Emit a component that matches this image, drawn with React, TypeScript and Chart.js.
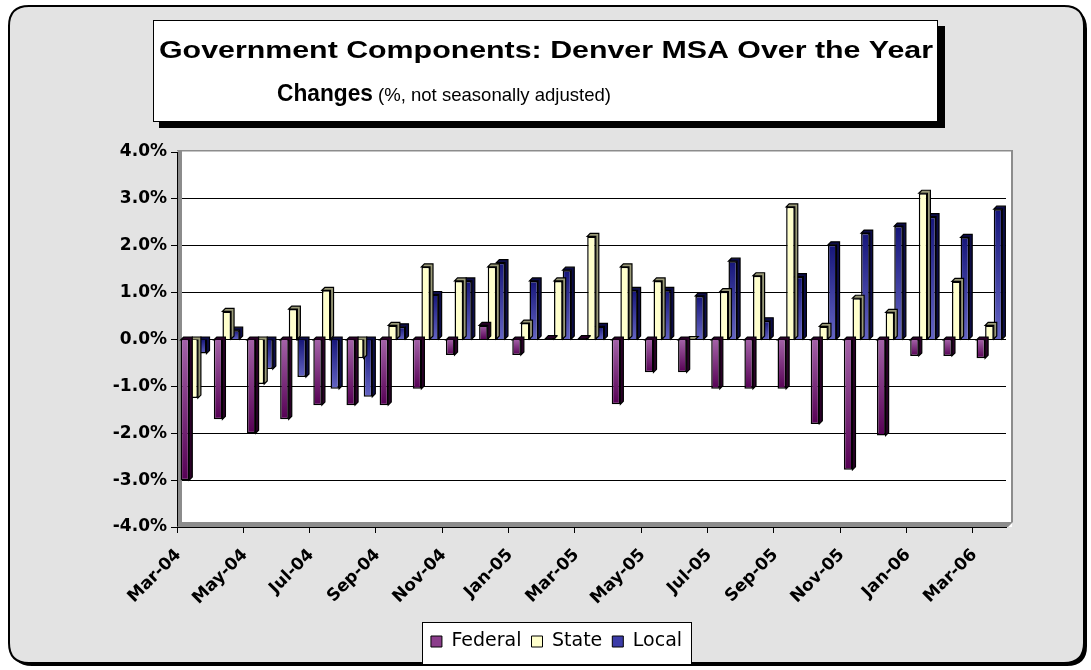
import React, { useEffect, useRef } from 'react';
import { Chart, registerables } from 'chart.js';

Chart.register(...registerables);

const months = [
  'Mar-04', 'Apr-04', 'May-04', 'Jun-04', 'Jul-04', 'Aug-04', 'Sep-04', 'Oct-04', 'Nov-04', 'Dec-04',
  'Jan-05', 'Feb-05', 'Mar-05', 'Apr-05', 'May-05', 'Jun-05', 'Jul-05', 'Aug-05', 'Sep-05', 'Oct-05',
  'Nov-05', 'Dec-05', 'Jan-06', 'Feb-06', 'Mar-06',
];

const federal = [
  -3.0, -1.7, -2.0, -1.7, -1.4, -1.4, -1.4, -1.05, -0.33, 0.3, -0.33, 0.02, 0.02, -1.38, -0.7,
  -0.7, -1.05, -1.05, -1.05, -1.8, -2.78, -2.05, -0.35, -0.35, -0.4,
];

const state = [
  -1.25, 0.6, -0.95, 0.65, 1.05, -0.4, 0.3, 1.55, 1.25, 1.55, 0.35, 1.25, 2.2, 1.55, 1.25,
  0.0, 1.02, 1.36, 2.83, 0.28, 0.88, 0.58, 3.12, 1.24, 0.3,
];

const local = [
  -0.3, 0.2, -0.63, -0.8, -1.05, -1.22, 0.27, 0.96, 1.25, 1.64, 1.25, 1.48, 0.28, 1.05, 1.05,
  0.93, 1.67, 0.4, 1.34, 2.02, 2.27, 2.42, 2.62, 2.18, 2.78,
];

const seriesNames = ['Federal', 'State', 'Local'];
const legendColors = ['#8b3d8b', '#ffffcc', '#3c3ca8'];

const titleLine1 = 'Government Components: Denver MSA Over the Year';
const titleLine2Bold = 'Changes';
const titleLine2Normal = '(%, not seasonally adjusted)';

const yMin = -4;
const yMax = 4;
const yStep = 1;

function roundRect(ctx: CanvasRenderingContext2D, x: number, y: number, w: number, h: number, r: number) {
  ctx.beginPath();
  ctx.moveTo(x + r, y);
  ctx.lineTo(x + w - r, y);
  ctx.quadraticCurveTo(x + w, y, x + w, y + r);
  ctx.lineTo(x + w, y + h - r);
  ctx.quadraticCurveTo(x + w, y + h, x + w - r, y + h);
  ctx.lineTo(x + r, y + h);
  ctx.quadraticCurveTo(x, y + h, x, y + h - r);
  ctx.lineTo(x, y + r);
  ctx.quadraticCurveTo(x, y, x + r, y);
  ctx.closePath();
}

function stretchedText(ctx: CanvasRenderingContext2D, text: string, x: number, y: number, width: number, font: string) {
  ctx.save();
  ctx.font = font;
  const m = ctx.measureText(text).width;
  ctx.translate(x, y);
  ctx.scale(width / m, 1);
  ctx.textAlign = 'left';
  ctx.textBaseline = 'alphabetic';
  ctx.fillText(text, 0, 0);
  ctx.restore();
}

function gradientFill(topColor: string, bottomColor: string, fallback: string) {
  return (c: any) => {
    const chart = c.chart;
    const ys = chart.scales && chart.scales.y;
    if (!ys || c.raw === undefined) return fallback;
    const v = c.raw as number;
    const y0 = ys.getPixelForValue(0);
    const y1 = ys.getPixelForValue(v);
    const t = Math.min(y0, y1);
    const b = Math.max(y0, y1);
    if (b - t < 1) return fallback;
    const g = chart.ctx.createLinearGradient(0, t, 0, b);
    g.addColorStop(0, topColor);
    g.addColorStop(1, bottomColor);
    return g;
  };
}

const sideColors = ['#2a0028', '#9a9a78', '#0c0c48'];
const DEPTH = 3;

const decorPlugin = {
  id: 'decor',
  beforeDraw(chart: any) {
    const ctx: CanvasRenderingContext2D = chart.ctx;
    const W = chart.width;
    const H = chart.height;
    ctx.save();
    ctx.fillStyle = '#ffffff';
    ctx.fillRect(0, 0, W, H);
    // outer frame with shadow
    roundRect(ctx, 12, 9, 1075, 657, 20);
    ctx.fillStyle = '#000';
    ctx.fill();
    roundRect(ctx, 9, 6, 1075, 657, 20);
    ctx.fillStyle = '#e3e3e3';
    ctx.fill();
    ctx.lineWidth = 2;
    ctx.strokeStyle = '#000';
    ctx.stroke();

    // title box
    ctx.fillStyle = '#000';
    ctx.fillRect(159, 26, 786, 102);
    ctx.fillStyle = '#fff';
    ctx.fillRect(153, 20, 785, 102);
    ctx.lineWidth = 1;
    ctx.strokeStyle = '#000';
    ctx.strokeRect(153.5, 20.5, 784, 101);
    ctx.fillStyle = '#000';
    stretchedText(ctx, titleLine1, 159, 58, 774, 'bold 24px "Liberation Sans", Arial, sans-serif');
    stretchedText(ctx, titleLine2Bold, 277, 101, 96, 'bold 24px "Liberation Sans", Arial, sans-serif');
    stretchedText(ctx, titleLine2Normal, 378, 101, 233, '19px "Liberation Sans", Arial, sans-serif');

    // plot area background
    const a = chart.chartArea;
    ctx.fillStyle = '#ffffff';
    ctx.fillRect(a.left, a.top - 2, a.right + 6 - a.left, a.bottom - a.top + 2);

    // legend box
    const lg = chart.legend;
    if (lg && lg.legendHitBoxes && lg.legendHitBoxes.length) {
      const hb = lg.legendHitBoxes;
      const l = hb[0].left - 9;
      const r = hb[hb.length - 1].left + hb[hb.length - 1].width + 9;
      const t = hb[0].top - 10;
      const b = hb[0].top + hb[0].height + 13;
      ctx.fillStyle = '#fff';
      ctx.fillRect(l, t, r - l, b - t);
      ctx.strokeStyle = '#000';
      ctx.lineWidth = 1;
      ctx.strokeRect(Math.round(l) + 0.5, Math.round(t) + 0.5, Math.round(r - l), Math.round(b - t));
    }
    ctx.restore();
  },
  beforeDatasetsDraw(chart: any) {
    const ctx: CanvasRenderingContext2D = chart.ctx;
    const a = chart.chartArea;
    ctx.save();
    ctx.fillStyle = '#8c8c8c';
    // left wall
    ctx.fillRect(a.left + 1, a.top - 2, 4, a.bottom - a.top + 2);
    // top / right border
    ctx.fillRect(a.left, a.top - 2, a.right + 6 - a.left, 1.5);
    ctx.fillRect(a.right + 5, a.top - 2, 2, a.bottom - a.top - 3);
    // floor
    ctx.beginPath();
    ctx.moveTo(a.left, a.bottom);
    ctx.lineTo(a.left + 5, a.bottom - 5);
    ctx.lineTo(a.right + 7, a.bottom - 5);
    ctx.lineTo(a.right + 2, a.bottom);
    ctx.closePath();
    ctx.fill();
    ctx.restore();
  },
  beforeDatasetDraw(chart: any, args: any) {
    const ctx: CanvasRenderingContext2D = chart.ctx;
    const meta = args.meta;
    const di = args.index;
    ctx.save();
    ctx.fillStyle = sideColors[di];
    ctx.strokeStyle = '#000';
    ctx.lineWidth = 1.2;
    meta.data.forEach((el: any) => {
      const p = el.getProps(['x', 'y', 'base', 'width'], true);
      const l = p.x - p.width / 2;
      const r = p.x + p.width / 2;
      const t = Math.min(p.y, p.base);
      const b = Math.max(p.y, p.base);
      ctx.beginPath();
      ctx.moveTo(l, t);
      ctx.lineTo(l + DEPTH, t - DEPTH);
      ctx.lineTo(r + DEPTH, t - DEPTH);
      ctx.lineTo(r + DEPTH, b - DEPTH);
      ctx.lineTo(r, b);
      ctx.lineTo(r, t);
      ctx.closePath();
      ctx.fill();
      ctx.stroke();
    });
    ctx.restore();
  },
};

export default function App() {
  const ref = useRef<HTMLCanvasElement | null>(null);

  useEffect(() => {
    if (!ref.current) return;
    const common = { borderColor: '#000', borderWidth: 1.5, categoryPercentage: 0.78, barPercentage: 1.0 };
    const chart = new Chart(ref.current, {
      type: 'bar',
      data: {
        labels: months,
        datasets: [
          {
            label: seriesNames[0],
            data: federal,
            backgroundColor: gradientFill('#a462a8', '#560054', legendColors[0]),
            ...common,
          },
          {
            label: seriesNames[1],
            data: state,
            backgroundColor: '#ffffcc',
            ...common,
          },
          {
            label: seriesNames[2],
            data: local,
            backgroundColor: gradientFill('#16167a', '#6464c4', legendColors[2]),
            ...common,
          },
        ],
      },
      options: {
        responsive: false,
        animation: false,
        devicePixelRatio: 1,
        layout: { padding: { left: 107, right: 85, top: 152, bottom: 9 } },
        plugins: {
          title: { display: false },
          tooltip: { enabled: false },
          legend: {
            display: true,
            position: 'bottom',
            labels: {
              boxWidth: 11,
              boxHeight: 11,
              padding: 10,
              color: '#000',
              font: { family: '"DejaVu Sans", sans-serif', size: 19 },
              generateLabels: (ch: any) =>
                ch.data.datasets.map((ds: any, i: number) => ({
                  text: ds.label,
                  fillStyle: legendColors[i],
                  strokeStyle: '#000',
                  lineWidth: 1,
                  hidden: false,
                  datasetIndex: i,
                  fontColor: '#000',
                })),
            },
          },
        },
        scales: {
          x: {
            offset: true,
            grid: {
              display: true,
              offset: true,
              drawOnChartArea: false,
              drawTicks: true,
              tickLength: 6,
              lineWidth: 1,
              color: (c: any) => (c.index !== undefined && c.index % 2 === 0 ? '#000' : 'rgba(0,0,0,0)'),
            },
            border: { display: true, color: '#000', width: 1 },
            ticks: {
              autoSkip: false,
              maxRotation: 45,
              minRotation: 45,
              labelOffset: -15,
              padding: 12,
              color: '#000',
              font: { family: '"DejaVu Sans", sans-serif', size: 17, weight: 'bold' },
              callback: (_v: any, i: number) => (i % 2 === 0 ? months[i] : ''),
            },
            afterFit: (s: any) => {
              s.height = 95;
            },
          },
          y: {
            min: yMin,
            max: yMax,
            grid: {
              color: (c: any) => (c.tick && c.tick.value === yMax ? 'rgba(0,0,0,0)' : '#000'),
              tickColor: '#000',
              lineWidth: 1,
              drawTicks: true,
              tickLength: 6,
            },
            border: { display: true, color: '#000', width: 1 },
            ticks: {
              stepSize: yStep,
              padding: 4,
              color: '#000',
              font: { family: '"DejaVu Sans", sans-serif', size: 17, weight: 'bold' },
              callback: (v: any) => Number(v).toFixed(1) + '%',
            },
            afterFit: (s: any) => {
              s.width = 70;
            },
          },
        },
      },
      plugins: [decorPlugin],
    });
    return () => chart.destroy();
  }, []);

  return (
    <div style={{ position: 'fixed', left: 0, top: 0, width: 1091, height: 670 }}>
      <canvas ref={ref} width={1091} height={670} style={{ width: 1091, height: 670, display: 'block' }} />
    </div>
  );
}
